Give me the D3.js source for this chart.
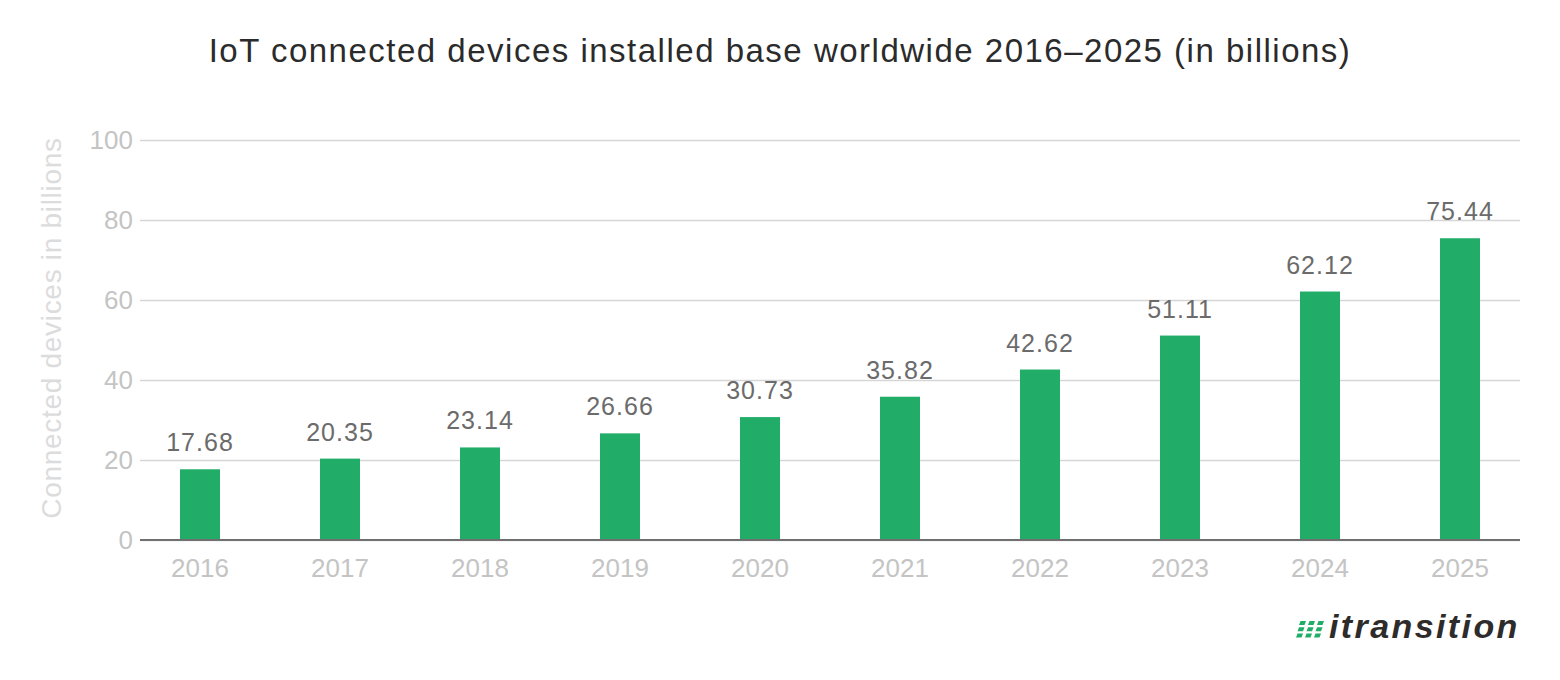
<!DOCTYPE html>
<html><head><meta charset="utf-8">
<script src="https://cdn.jsdelivr.net/npm/d3@7"></script>
<style>body{margin:0;background:#fff}svg{display:block}</style>
</head><body>
<svg id="c" width="1560" height="680"></svg>
<script>
const years = ["2016","2017","2018","2019","2020","2021","2022","2023","2024","2025"];
const values = [17.68,20.35,23.14,26.66,30.73,35.82,42.62,51.11,62.12,75.44];
const yTicks = [0,20,40,60,80,100];
const title = "IoT connected devices installed base worldwide 2016\u20132025 (in billions)";
const yTitle = "Connected devices in billions";

const svg = d3.select("#c");
const font = "'Liberation Sans', Arial, sans-serif";
const x = d3.scaleBand().domain(years).range([130,1530]).paddingInner(0).paddingOuter(0);
const y = d3.scaleLinear().domain([0,100]).range([540,140]);
const barW = 40;

svg.append("text").attr("x",780).attr("y",62).attr("text-anchor","middle")
  .attr("font-family",font).attr("font-size",33).attr("letter-spacing",1.5)
  .attr("fill","#2b2b2b").text(title);

const yAxis = d3.axisLeft(y).tickValues(yTicks).tickSize(-1380).tickPadding(0);
const ga = svg.append("g").attr("transform","translate(140,0)").call(yAxis);
ga.select(".domain").remove();
ga.selectAll(".tick line").attr("stroke","#d6d6d6").attr("stroke-width",1.5);
ga.selectAll(".tick text").attr("x",-7).attr("font-family",font).attr("font-size",26).attr("fill","#c4c4c4");

svg.append("text").attr("transform","translate(61,328) rotate(-90)").attr("text-anchor","middle")
  .attr("font-family",font).attr("font-size",28).attr("letter-spacing",0.7)
  .attr("fill","#dcdcdc").text(yTitle);

svg.append("g").selectAll("rect").data(values).join("rect")
  .attr("x",(d,i)=>x(years[i])+x.bandwidth()/2-barW/2).attr("width",barW)
  .attr("y",d=>y(d)).attr("height",d=>y(0)-y(d)).attr("fill","#21ad68");

svg.append("g").selectAll("text").data(values).join("text")
  .attr("x",(d,i)=>x(years[i])+x.bandwidth()/2).attr("y",d=>y(d)-18)
  .attr("text-anchor","middle").attr("font-family",font).attr("font-size",25)
  .attr("letter-spacing",1).attr("fill","#6b6b6b").text(d=>d.toFixed(2));

const xa = svg.append("g").attr("transform","translate(0,540)")
  .call(d3.axisBottom(x).tickSize(0).tickPadding(19));
xa.select(".domain").remove();
xa.selectAll(".tick text").attr("font-family",font).attr("font-size",26).attr("fill","#c4c4c4");
svg.append("line").attr("x1",140).attr("x2",1520).attr("y1",540).attr("y2",540)
  .attr("stroke","#707070").attr("stroke-width",2);

const logo = svg.append("g").attr("transform","translate(1296,621)");
for(let r=0;r<3;r++) for(let c=0;c<3;c++){
  logo.append("path").attr("d","M1.5,0 L7,0 L5.5,4 L0,4 Z")
    .attr("transform",`translate(${c*9 - r*1.5 + 3},${r*6.2})`).attr("fill","#21ad68");
}
svg.append("text").attr("x",1329).attr("y",638).attr("font-family",font).attr("font-weight","bold")
  .attr("font-style","italic").attr("font-size",34).attr("letter-spacing",2.4)
  .attr("fill","#2e2b2b").text("itransition");
</script>
</body></html>
